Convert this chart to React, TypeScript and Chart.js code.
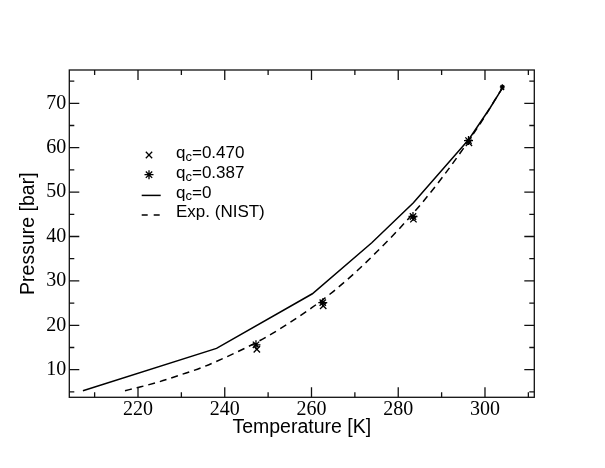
import React, { useEffect, useRef } from 'react';
import { Chart, registerables } from 'chart.js';

Chart.register(...registerables);

// ---- data ----
const tempQc470 = [247.4, 262.7, 283.5, 296.3, 304.0];
const presQc470 = [14.6, 24.4, 43.9, 61.1, 73.4];

const tempQc387 = [247.2, 262.6, 283.4, 296.2, 304.0];
const presQc387 = [15.6, 25.1, 44.5, 61.6, 73.7];

const tempQc0 = [207.3, 238.1, 260.2, 273.9, 283.5, 296.3, 301.2, 304.0];
const presQc0 = [5.25, 14.8, 27.1, 38.6, 47.6, 61.9, 69.0, 73.4];

const tempNist = [217.0, 220, 225, 230, 235, 240, 245, 250, 255, 260, 265, 270, 275, 280, 285, 290, 295, 300, 302, 304.1];
const presNist = [5.27, 5.99, 7.3, 8.9, 10.6, 12.7, 15.0, 17.6, 20.6, 23.9, 27.6, 31.8, 36.5, 41.5, 47.0, 53.1, 59.8, 67.1, 70.3, 73.6];

const labels = ['q_c=0.470', 'q_c=0.387', 'q_c=0', 'Exp. (NIST)'];

const xMajorTicks = [220, 240, 260, 280, 300];
const xMinorTicks = [210, 230, 250, 270, 290, 310];
const yMajorTicks = [10, 20, 30, 40, 50, 60, 70];
const yMinorTicks = [5, 15, 25, 35, 45, 55, 65, 75];

const xRange = [204.16, 311.37];
const yRange = [3.78, 77.5];

const zip = (xs: number[], ys: number[]) => xs.map((x, i) => ({ x, y: ys[i] }));

const SANS = '"Liberation Sans", Arial, sans-serif';
const SERIF = '"Liberation Serif", "Times New Roman", serif';

function drawMarker(ctx: CanvasRenderingContext2D, style: string, x: number, y: number, r: number) {
  ctx.beginPath();
  const d = r * Math.SQRT1_2;
  if (style === 'crossRot' || style === 'star') {
    ctx.moveTo(x - d, y - d); ctx.lineTo(x + d, y + d);
    ctx.moveTo(x - d, y + d); ctx.lineTo(x + d, y - d);
  }
  if (style === 'star') {
    ctx.moveTo(x - r, y); ctx.lineTo(x + r, y);
    ctx.moveTo(x, y - r); ctx.lineTo(x, y + r);
  }
  ctx.stroke();
}

const framePlugin = {
  id: 'frameTicks',
  afterDatasetsDraw(chart: any) {
    const { ctx, chartArea: a, scales } = chart;
    const xs = scales.x, ys = scales.y;
    ctx.save();
    ctx.strokeStyle = '#111';
    ctx.lineWidth = 1.3;
    ctx.strokeRect(a.left, a.top, a.right - a.left, a.bottom - a.top);
    ctx.beginPath();
    const vt = (vals: number[], len: number) => {
      vals.forEach((v) => {
        const px = xs.getPixelForValue(v);
        if (px < a.left - 0.5 || px > a.right + 0.5) return;
        ctx.moveTo(px, a.bottom); ctx.lineTo(px, a.bottom - len);
        ctx.moveTo(px, a.top); ctx.lineTo(px, a.top + len);
      });
    };
    const ht = (vals: number[], len: number) => {
      vals.forEach((v) => {
        const py = ys.getPixelForValue(v);
        if (py < a.top - 0.5 || py > a.bottom + 0.5) return;
        ctx.moveTo(a.left, py); ctx.lineTo(a.left + len, py);
        ctx.moveTo(a.right, py); ctx.lineTo(a.right - len, py);
      });
    };
    vt(xMajorTicks, 10); vt(xMinorTicks, 5);
    ht(yMajorTicks, 10); ht(yMinorTicks, 5);
    ctx.stroke();
    ctx.restore();
  },
};

const legendPlugin = {
  id: 'customLegend',
  afterDraw(chart: any) {
    const { ctx, chartArea: a } = chart;
    const markerX = a.left + 79.7;
    const textX = a.left + 106.7;
    const base0 = a.top + 88.3;
    const step = 19.7;
    ctx.save();
    ctx.fillStyle = '#000';
    ctx.strokeStyle = '#000';
    ctx.textBaseline = 'alphabetic';
    ctx.textAlign = 'left';
    chart.data.datasets.forEach((ds: any, i: number) => {
      const by = base0 + i * step;
      ctx.lineWidth = 1.3;
      if (ds.showLine) {
        ctx.setLineDash(ds.borderDash ? [6, 6] : []);
        ctx.lineWidth = 1.5;
        ctx.beginPath();
        ctx.moveTo(a.left + 72.4, by - 2.3);
        ctx.lineTo(a.left + 91.4, by - 2.3);
        ctx.stroke();
        ctx.setLineDash([]);
      } else {
        drawMarker(ctx, ds.pointStyle, markerX, by - 3.3, 4.5);
      }
      const text: string = ds.label;
      const m = text.match(/^(.*?)_(\w)(.*)$/);
      let x = textX;
      if (m) {
        ctx.font = `17px ${SANS}`;
        ctx.fillText(m[1], x, by);
        x += ctx.measureText(m[1]).width;
        ctx.font = `13px ${SANS}`;
        ctx.fillText(m[2], x, by + 2.5);
        x += ctx.measureText(m[2]).width;
        ctx.font = `17px ${SANS}`;
        ctx.fillText(m[3], x, by);
      } else {
        ctx.font = `17px ${SANS}`;
        ctx.fillText(text, x, by);
      }
    });
    ctx.restore();
  },
};

export default function App() {
  const ref = useRef<HTMLCanvasElement>(null);
  useEffect(() => {
    const canvas = ref.current;
    if (!canvas) return;
    const lastSmall = (c: any) => (c.dataIndex === c.dataset.data.length - 1 ? 2.5 : 4.5);
    const chart = new Chart(canvas, {
      type: 'scatter',
      data: {
        datasets: [
          {
            label: labels[0],
            data: zip(tempQc470, presQc470),
            pointStyle: 'crossRot',
            pointRadius: lastSmall,
            borderColor: '#000',
            backgroundColor: '#000',
            pointBorderWidth: 1.3,
            showLine: false,
          },
          {
            label: labels[1],
            data: zip(tempQc387, presQc387),
            pointStyle: 'star',
            pointRadius: lastSmall,
            borderColor: '#000',
            backgroundColor: '#000',
            pointBorderWidth: 1.3,
            showLine: false,
          },
          {
            label: labels[2],
            data: zip(tempQc0, presQc0),
            showLine: true,
            pointRadius: 0,
            borderColor: '#000',
            borderWidth: 1.5,
            tension: 0,
          },
          {
            label: labels[3],
            data: zip(tempNist, presNist),
            showLine: true,
            pointRadius: 0,
            borderColor: '#000',
            borderWidth: 1.5,
            borderDash: [7, 5],
            cubicInterpolationMode: 'monotone',
          },
        ] as any,
      },
      options: {
        animation: false,
        responsive: false,
        devicePixelRatio: 1,
        layout: { padding: { top: 70, right: 605 - 534.3, left: 0, bottom: 0 } },
        plugins: { legend: { display: false }, tooltip: { enabled: false } },
        scales: {
          x: {
            type: 'linear',
            min: xRange[0],
            max: xRange[1],
            grid: { display: false, drawTicks: false },
            border: { display: false },
            afterFit: (s: any) => { s.height = 468 - 397.3; },
            ticks: {
              stepSize: 20,
              includeBounds: false,
              autoSkip: false,
              maxRotation: 0,
              padding: 0,
              color: '#000',
              font: { family: SERIF, size: 20 },
              callback: (v: any) => String(v),
            },
            title: {
              display: true,
              text: 'Temperature [K]',
              color: '#000',
              font: { family: SANS, size: 19.5 },
              padding: { top: 0, bottom: 28.8 },
            },
          },
          y: {
            type: 'linear',
            min: yRange[0],
            max: yRange[1],
            grid: { display: false, drawTicks: false },
            border: { display: false },
            afterFit: (s: any) => { s.width = 69.3; },
            ticks: {
              stepSize: 10,
              includeBounds: false,
              autoSkip: false,
              padding: 3,
              color: '#000',
              font: { family: SERIF, size: 20 },
              callback: (v: any) => String(v),
            },
            title: {
              display: true,
              text: 'Pressure [bar]',
              color: '#000',
              font: { family: SANS, size: 19.5 },
              padding: { top: 17, bottom: 0 },
            },
          },
        },
      } as any,
      plugins: [framePlugin, legendPlugin],
    });
    return () => chart.destroy();
  }, []);
  return (
    <div style={{ position: 'absolute', left: 0, top: 0, width: 605, height: 468, background: '#fff' }}>
      <canvas ref={ref} width={605} height={468} style={{ width: 605, height: 468, display: 'block' }} />
    </div>
  );
}
